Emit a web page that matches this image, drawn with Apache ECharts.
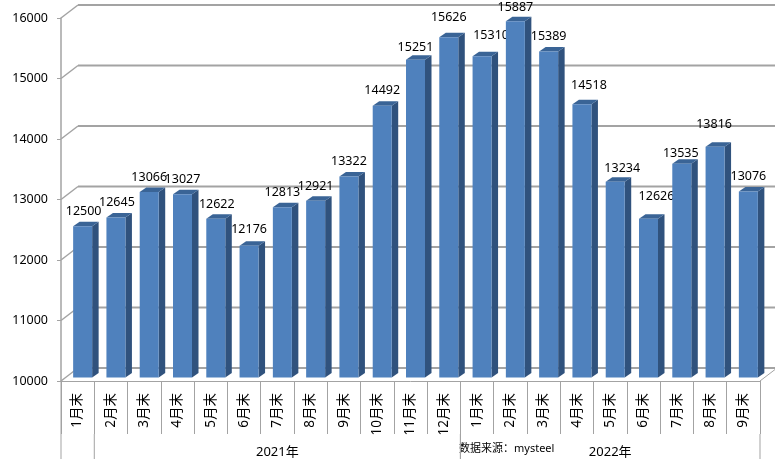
<!DOCTYPE html>
<html>
<head>
<meta charset="utf-8">
<title>chart</title>
<style>
html, body { margin: 0; padding: 0; background: #fff; }
#main { width: 775px; height: 459px; }
</style>
<script src="https://cdn.jsdelivr.net/npm/echarts@6/dist/echarts.min.js"></script>
</head>
<body>
<div id="main"></div>
<script>
var months = ["1月末", "2月末", "3月末", "4月末", "5月末", "6月末", "7月末", "8月末", "9月末", "10月末", "11月末", "12月末",
    "1月末", "2月末", "3月末", "4月末", "5月末", "6月末", "7月末", "8月末", "9月末"];
var values = [12500, 12645, 13066, 13027, 12622, 12176, 12813, 12921, 13322, 14492, 15251, 15626,
    15310, 15887, 15389, 14518, 13234, 12626, 13535, 13816, 13076];
var yTicks = [10000, 11000, 12000, 13000, 14000, 15000, 16000];
var yearNames = ["2021年", "2022年"];
var yearFirst = [1, 12];
var yearLast = [11, 20];

// hand placed data labels, same as in the original sheet
var labelShiftX = [1, 1, 0, 0, 1, 0, 0, 0, 0, 0, 0, 0, 9, 0, 0, 7, 7, 8, -1, -1, 0];
var labelShiftY = [-15, -15, -15, -15, -14, -16, -15, -14, -15, -15, -12, -20, -21, -14, -15, -19, -13, -22, -10, -22, -15];

var fontName = "'Noto Sans', 'Noto Sans CJK SC', sans-serif";
var gridColor = "#a3a3a3";
var depthX = 17, depthY = 13;
var barDepthX = 6.5, barDepthY = 4.5, barWidth = 19, barShiftX = 5, barShiftY = 3.5;

function seg(x1, y1, x2, y2, width) {
    return {
        type: "line",
        shape: {x1: x1, y1: y1, x2: x2, y2: y2},
        style: {stroke: gridColor, lineWidth: width}
    };
}

function renderWall(params, api) {
    var p = api.coord([0, api.value(1)]);
    var left = params.coordSys.x;
    var right = left + params.coordSys.width;
    var children = [
        seg(left, p[1], left + depthX, p[1] - depthY, 1.5),
        seg(left + depthX, p[1] - depthY, right + depthX, p[1] - depthY, 2)
    ];
    if (api.value(1) == yTicks[0]) {
        children.push(seg(right, p[1], right + depthX, p[1] - depthY, 1));
        // the outer left rule runs down through the year row
        children.push(seg(left, p[1], left, p[1] + 78, 1));
    }
    return {type: "group", children: children};
}

function poly(points, color) {
    return {type: "polygon", shape: {points: points}, style: {fill: color}};
}

function renderBar(params, api) {
    var i = api.value(0);
    var top = api.coord([i, api.value(1)]);
    var base = api.coord([i, yTicks[0]]);
    var x0 = top[0] + barShiftX - barWidth / 2;
    var x1 = x0 + barWidth;
    var y0 = top[1] - barShiftY;
    var y1 = base[1] - barShiftY;
    return {
        type: "group",
        children: [
            poly([[x1, y0], [x1 + barDepthX, y0 - barDepthY], [x1 + barDepthX, y1 - barDepthY], [x1, y1]], "#30527d"),
            poly([[x0, y0], [x0 + barDepthX, y0 - barDepthY], [x1 + barDepthX, y0 - barDepthY], [x1, y0]], "#3a6496"),
            poly([[x0, y0], [x1, y0], [x1, y1], [x0, y1]], "#4f81bd"),
            {
                type: "text",
                x: top[0] + barShiftX + labelShiftX[i],
                y: y0 + labelShiftY[i],
                style: {
                    text: String(api.value(1)),
                    font: "12.5px " + fontName,
                    fill: "#000",
                    align: "center",
                    verticalAlign: "middle"
                }
            }
        ]
    };
}

function renderYear(params, api) {
    var k = api.value(0);
    var band = api.size([1, 0])[0];
    var a = api.coord([yearFirst[k], yTicks[0]]);
    var b = api.coord([yearLast[k], yTicks[0]]);
    var x0 = a[0] - band / 2;
    var x1 = b[0] + band / 2;
    var y = a[1];
    return {
        type: "group",
        children: [
            seg(x0, y + 53, x0, y + 78, 1),
            seg(x1, y + 53, x1, y + 78, 1),
            {
                type: "text",
                x: (x0 + x1) / 2,
                y: y + 71,
                style: {
                    text: yearNames[k],
                    font: "13px " + fontName,
                    fill: "#000",
                    align: "center",
                    verticalAlign: "middle"
                }
            }
        ]
    };
}

var barData = [];
for (var i = 0; i < values.length; i++) {
    barData.push([i, values[i]]);
}
var wallData = [];
for (var i = 0; i < yTicks.length; i++) {
    wallData.push([0, yTicks[i]]);
}
var yearData = [];
for (var i = 0; i < yearNames.length; i++) {
    yearData.push([i]);
}

var chart = echarts.init(document.getElementById("main"));
chart.setOption({
    animation: false,
    backgroundColor: "#fff",
    grid: {left: 61, right: 15, top: 18, bottom: 78},
    xAxis: {
        type: "category",
        data: months,
        axisLine: {lineStyle: {color: gridColor, width: 1}},
        axisTick: {show: true, length: 53, lineStyle: {color: gridColor, width: 1}},
        axisLabel: {
            interval: 0,
            rotate: 90,
            margin: 12,
            color: "#000",
            fontSize: 13.5,
            fontFamily: fontName
        }
    },
    yAxis: {
        type: "value",
        min: 10000,
        max: 16000,
        interval: 1000,
        splitLine: {show: false},
        axisLine: {show: true, lineStyle: {color: gridColor, width: 1.5}},
        axisTick: {show: true, length: 4, lineStyle: {color: gridColor}},
        axisLabel: {
            margin: 13,
            color: "#000",
            fontSize: 12.5,
            fontFamily: fontName,
            formatter: function(value) {
                return String(value);
            }
        }
    },
    graphic: [{
        type: "text",
        left: 459,
        top: 443,
        style: {text: "数据来源：mysteel", font: "11px " + fontName, fill: "#000"}
    }],
    series: [
        {type: "custom", renderItem: renderWall, data: wallData, z: 1, silent: true},
        {type: "custom", renderItem: renderBar, data: barData, z: 2, silent: true},
        {type: "custom", renderItem: renderYear, data: yearData, z: 3, silent: true}
    ]
});
</script>
</body>
</html>
